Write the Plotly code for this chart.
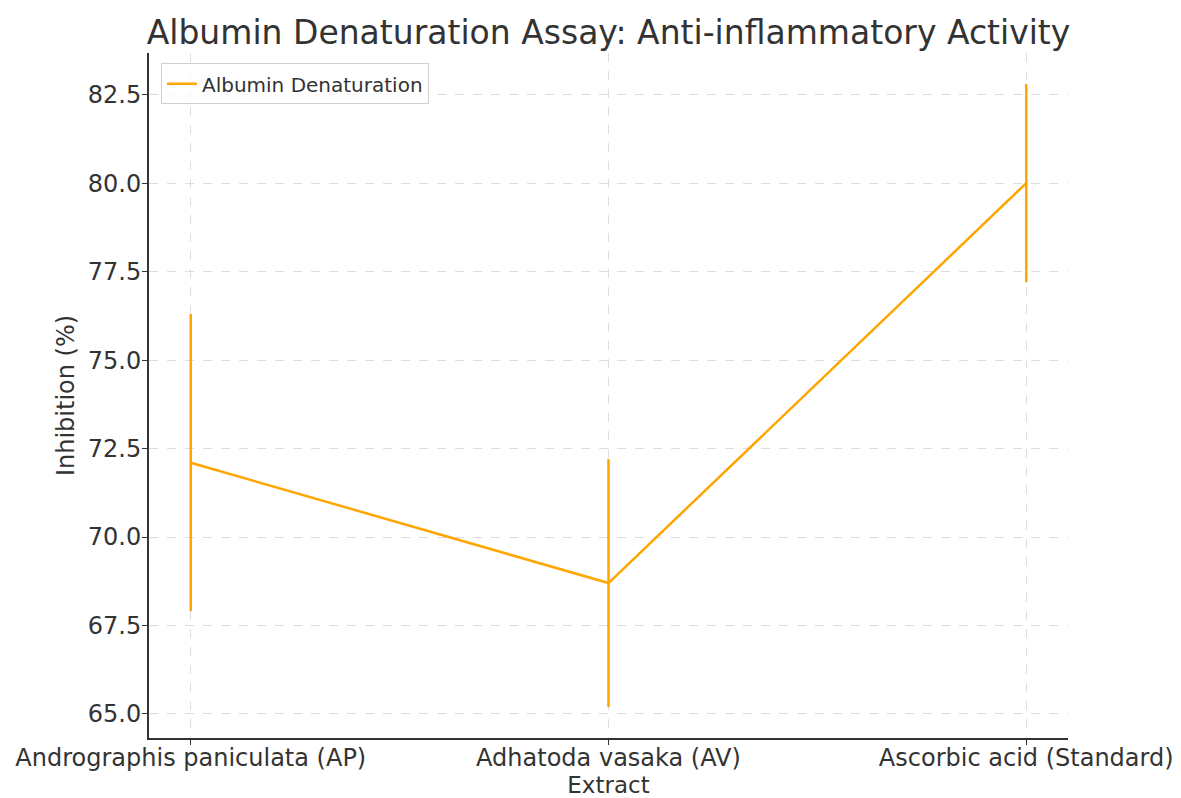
import plotly.graph_objects as go

extracts = ["Andrographis paniculata (AP)", "Adhatoda vasaka (AV)", "Ascorbic acid (Standard)"]
inhibition = [72.1, 68.7, 80.0]
errors = [4.2, 3.5, 2.8]
yticks = [65.0, 67.5, 70.0, 72.5, 75.0, 77.5, 80.0, 82.5]

orange = "#FFA500"
font_family = "DejaVu Sans"
txt = "#333333"

# page body has an 8px default margin, so the figure is drawn 8px smaller
W, H = 1173, 790
L, R, T, B = 141, 113, 45, 60

fig = go.Figure()
fig.add_trace(go.Scatter(
    x=extracts, y=inhibition, mode="lines",
    name="Albumin Denaturation",
    line=dict(color=orange, width=2.5),
    error_y=dict(type="data", array=errors, visible=True, color=orange, thickness=2.5, width=0),
))

fig.update_layout(
    width=W, height=H,
    margin=dict(l=L, r=R, t=T, b=B),
    paper_bgcolor="white", plot_bgcolor="white",
    font=dict(family=font_family, color=txt),
    title=dict(text="Albumin Denaturation Assay: Anti-inflammatory Activity",
               x=(L + (W - R)) / 2 / W, xanchor="center", y=1 - 24 / H, yanchor="middle",
               font=dict(size=33, color=txt)),
    showlegend=True,
    legend=dict(x=0.013, y=0.985, xanchor="left", yanchor="top",
                bgcolor="rgba(255,255,255,0.8)", bordercolor="#d0d0d0", borderwidth=1,
                font=dict(size=20, color=txt)),
)
fig.update_xaxes(
    type="category", range=[-0.1, 2.1], automargin=False,
    showline=True, linecolor="#333333", linewidth=2, mirror=False,
    ticks="outside", ticklen=5, tickcolor="#333333", ticklabelstandoff=-8,
    showgrid=True, gridcolor="#dddddd", griddash="dash", gridwidth=1,
    tickfont=dict(size=24, color=txt),
    title=dict(text="Extract", font=dict(size=23, color=txt), standoff=7),
    zeroline=False,
)
fig.update_yaxes(
    range=[64.32, 83.68], tickvals=yticks, ticktext=[f"{v:.1f}" for v in yticks],
    automargin=False,
    showline=True, linecolor="#333333", linewidth=2, mirror=False,
    ticks="outside", ticklen=5, tickcolor="#333333", ticklabelstandoff=-4,
    showgrid=True, gridcolor="#dddddd", griddash="dash", gridwidth=1,
    tickfont=dict(size=24, color=txt),
    title=dict(text="Inhibition (%)", font=dict(size=24, color=txt), standoff=6),
    zeroline=False,
)

fig.write_html("out.html")
